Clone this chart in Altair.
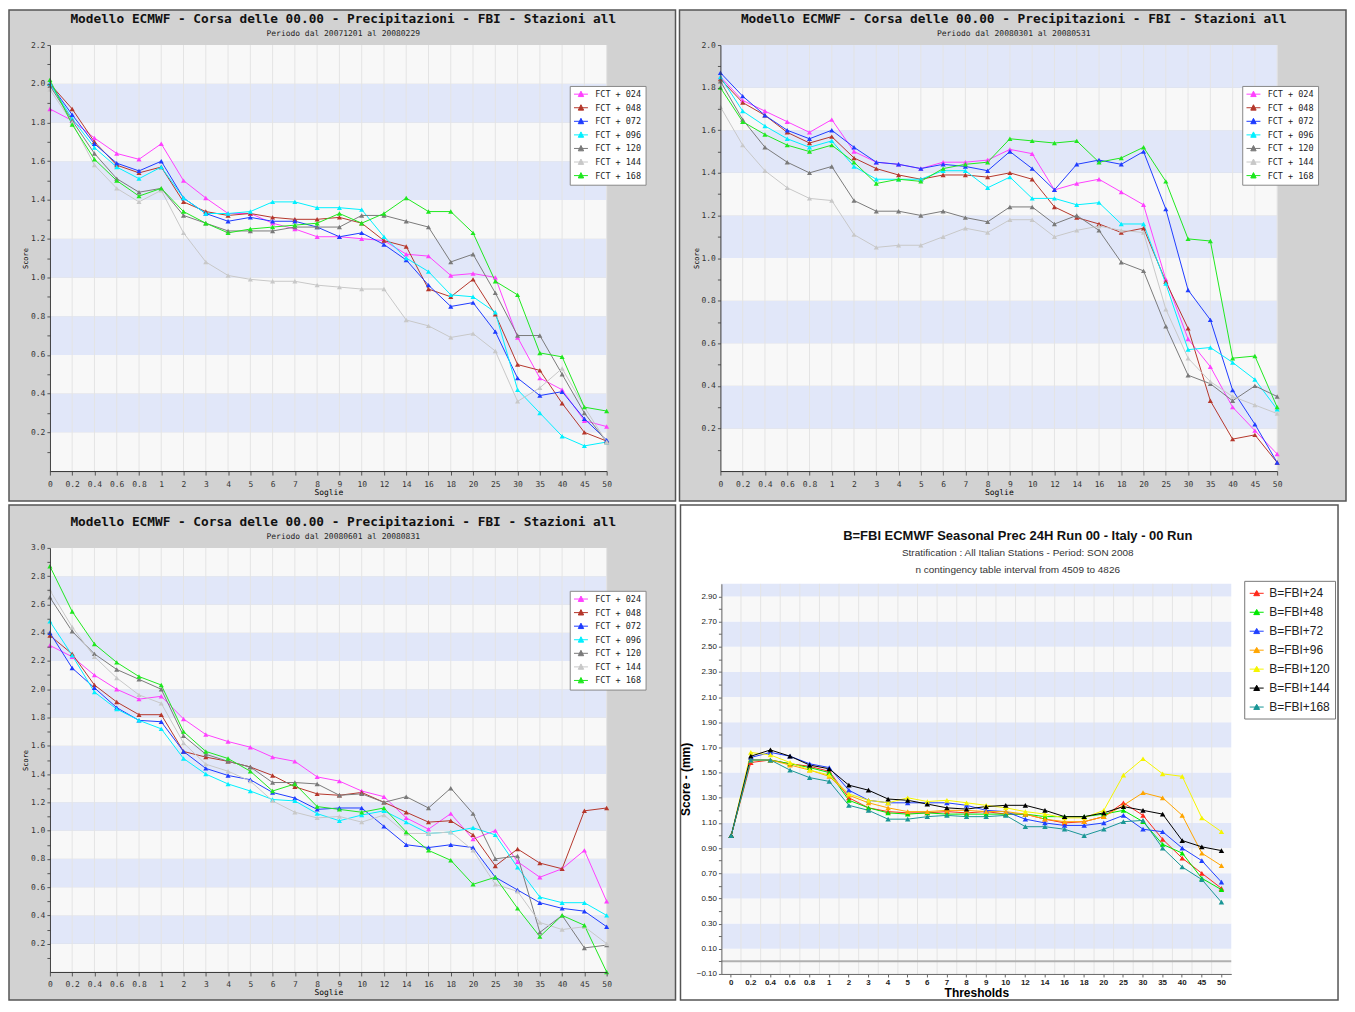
import altair as alt
import pandas as pd

THRESHOLDS = ["0", "0.2", "0.4", "0.6", "0.8", "1", "2", "3", "4", "5", "6", "7", "8",
              "9", "10", "12", "14", "16", "18", "20", "25", "30", "35", "40", "45", "50"]

FCT_NAMES = ["FCT + 024", "FCT + 048", "FCT + 072", "FCT + 096", "FCT + 120", "FCT + 144", "FCT + 168"]
FCT_COLORS = ["#ff40ff", "#b5372b", "#1f3cff", "#00f0ff", "#7a7a7a", "#c8c8c8", "#1fe81f"]

B_NAMES = ["B=FBI+24", "B=FBI+48", "B=FBI+72", "B=FBI+96", "B=FBI+120", "B=FBI+144", "B=FBI+168"]
B_COLORS = ["#ff2a1a", "#00e800", "#2040ff", "#ffa500", "#f5f500", "#000000", "#1a9696"]

TITLE_ECMWF = "Modello ECMWF - Corsa delle 00.00 - Precipitazioni - FBI -  Stazioni all"
PERIOD_1 = "Periodo dal 20071201 al 20080229"
PERIOD_2 = "Periodo dal 20080301 al 20080531"
PERIOD_3 = "Periodo dal 20080601 al 20080831"
TITLE_4 = "B=FBI  ECMWF Seasonal Prec 24H Run 00 - Italy - 00 Run"
SUB_4A = "Stratification : All Italian Stations - Period: SON 2008"
SUB_4B = "n contingency table interval from 4509 to 4826"

# Panel 1 (DJF)
P1_024 = [1.87, 1.81, 1.72, 1.64, 1.61, 1.69, 1.50, 1.41, 1.33, 1.33, 1.28, 1.25, 1.21, 1.21, 1.20, 1.19, 1.12, 1.11, 1.01, 1.02, 1.00, 0.69, 0.48, 0.42, 0.26, 0.23]
P1_048 = [2.00, 1.87, 1.70, 1.58, 1.54, 1.57, 1.39, 1.34, 1.32, 1.33, 1.31, 1.30, 1.30, 1.31, 1.28, 1.19, 1.16, 0.94, 0.90, 0.99, 0.81, 0.55, 0.52, 0.35, 0.20, 0.155]
P1_072 = [2.00, 1.84, 1.69, 1.59, 1.55, 1.60, 1.41, 1.33, 1.29, 1.31, 1.29, 1.29, 1.26, 1.21, 1.23, 1.17, 1.09, 0.96, 0.85, 0.87, 0.72, 0.48, 0.39, 0.41, 0.27, 0.16]
P1_096 = [2.00, 1.82, 1.67, 1.57, 1.51, 1.57, 1.41, 1.33, 1.33, 1.34, 1.39, 1.39, 1.36, 1.36, 1.35, 1.21, 1.10, 1.03, 0.91, 0.90, 0.82, 0.42, 0.30, 0.18, 0.13, 0.15]
P1_120 = [1.99, 1.81, 1.64, 1.51, 1.44, 1.46, 1.32, 1.28, 1.24, 1.24, 1.24, 1.26, 1.26, 1.26, 1.32, 1.32, 1.29, 1.26, 1.08, 1.12, 0.92, 0.70, 0.70, 0.50, 0.30, 0.15]
P1_144 = [1.97, 1.80, 1.58, 1.46, 1.39, 1.45, 1.23, 1.08, 1.01, 0.99, 0.98, 0.98, 0.96, 0.95, 0.94, 0.94, 0.78, 0.75, 0.69, 0.71, 0.62, 0.36, 0.43, 0.53, 0.33, 0.15]
P1_168 = [2.02, 1.79, 1.61, 1.50, 1.42, 1.46, 1.34, 1.28, 1.23, 1.25, 1.26, 1.27, 1.28, 1.33, 1.28, 1.33, 1.41, 1.34, 1.34, 1.23, 0.98, 0.91, 0.61, 0.59, 0.33, 0.31]

# Panel 2 (MAM)
P2_024 = [1.85, 1.74, 1.69, 1.64, 1.59, 1.65, 1.50, 1.45, 1.44, 1.42, 1.45, 1.45, 1.46, 1.51, 1.49, 1.32, 1.35, 1.37, 1.31, 1.25, 0.90, 0.62, 0.49, 0.30, 0.19, 0.08]
P2_048 = [1.84, 1.73, 1.67, 1.59, 1.54, 1.57, 1.47, 1.42, 1.39, 1.37, 1.39, 1.39, 1.38, 1.40, 1.37, 1.24, 1.19, 1.16, 1.12, 1.14, 0.89, 0.67, 0.33, 0.15, 0.17, 0.04]
P2_072 = [1.87, 1.76, 1.67, 1.60, 1.56, 1.60, 1.52, 1.45, 1.44, 1.42, 1.44, 1.43, 1.41, 1.50, 1.42, 1.32, 1.44, 1.46, 1.44, 1.50, 1.23, 0.85, 0.71, 0.38, 0.22, 0.04]
P2_096 = [1.85, 1.69, 1.62, 1.56, 1.52, 1.55, 1.43, 1.37, 1.37, 1.37, 1.41, 1.41, 1.33, 1.38, 1.28, 1.28, 1.25, 1.26, 1.16, 1.16, 0.88, 0.57, 0.58, 0.51, 0.43, 0.29]
P2_120 = [1.83, 1.65, 1.52, 1.45, 1.40, 1.43, 1.27, 1.22, 1.22, 1.20, 1.22, 1.19, 1.17, 1.24, 1.24, 1.16, 1.20, 1.13, 0.98, 0.94, 0.68, 0.45, 0.41, 0.33, 0.40, 0.35]
P2_144 = [1.71, 1.53, 1.41, 1.33, 1.28, 1.27, 1.11, 1.05, 1.06, 1.06, 1.10, 1.14, 1.12, 1.18, 1.18, 1.10, 1.13, 1.15, 1.13, 1.12, 0.76, 0.53, 0.42, 0.35, 0.31, 0.27]
P2_168 = [1.80, 1.64, 1.58, 1.53, 1.50, 1.53, 1.45, 1.35, 1.37, 1.36, 1.42, 1.44, 1.45, 1.56, 1.55, 1.54, 1.55, 1.45, 1.47, 1.52, 1.36, 1.09, 1.08, 0.53, 0.54, 0.30]

# Panel 3 (JJA)
P3_024 = [2.31, 2.23, 2.10, 2.00, 1.93, 1.95, 1.79, 1.68, 1.63, 1.59, 1.52, 1.49, 1.38, 1.35, 1.28, 1.24, 1.09, 1.01, 1.12, 0.94, 1.00, 0.78, 0.67, 0.73, 0.86, 0.50]
P3_048 = [2.38, 2.25, 2.03, 1.91, 1.82, 1.82, 1.56, 1.52, 1.49, 1.45, 1.39, 1.31, 1.26, 1.25, 1.27, 1.20, 1.13, 1.06, 1.07, 0.97, 0.75, 0.87, 0.77, 0.73, 1.14, 1.16]
P3_072 = [2.40, 2.15, 2.01, 1.87, 1.78, 1.77, 1.56, 1.44, 1.39, 1.36, 1.27, 1.23, 1.15, 1.16, 1.16, 1.03, 0.90, 0.88, 0.90, 0.88, 0.67, 0.58, 0.49, 0.45, 0.43, 0.32]
P3_096 = [2.48, 2.24, 1.98, 1.86, 1.78, 1.72, 1.51, 1.40, 1.33, 1.28, 1.22, 1.21, 1.12, 1.07, 1.11, 1.14, 1.06, 0.98, 0.99, 1.02, 0.97, 0.74, 0.53, 0.49, 0.49, 0.40]
P3_120 = [2.65, 2.41, 2.25, 2.14, 2.07, 2.00, 1.67, 1.54, 1.49, 1.45, 1.34, 1.34, 1.33, 1.25, 1.26, 1.20, 1.24, 1.16, 1.30, 1.12, 0.80, 0.82, 0.28, 0.40, 0.17, 0.19]
P3_144 = [2.70, 2.44, 2.23, 2.08, 1.96, 1.90, 1.62, 1.47, 1.42, 1.35, 1.21, 1.13, 1.09, 1.10, 1.06, 1.11, 0.98, 0.98, 0.99, 0.86, 0.62, 0.57, 0.35, 0.30, 0.32, 0.20]
P3_168 = [2.87, 2.55, 2.32, 2.19, 2.09, 2.03, 1.70, 1.56, 1.51, 1.42, 1.28, 1.33, 1.17, 1.15, 1.13, 1.16, 0.99, 0.86, 0.79, 0.62, 0.67, 0.45, 0.25, 0.40, 0.33, 0.00]

# Panel 4 (SON)
P4_24 = [1.00, 1.58, 1.60, 1.57, 1.55, 1.51, 1.30, 1.22, 1.19, 1.18, 1.18, 1.19, 1.18, 1.19, 1.17, 1.17, 1.13, 1.10, 1.11, 1.15, 1.26, 1.16, 0.97, 0.82, 0.70, 0.58]
P4_48 = [1.00, 1.60, 1.60, 1.57, 1.54, 1.50, 1.28, 1.22, 1.18, 1.17, 1.18, 1.17, 1.17, 1.17, 1.17, 1.17, 1.15, 1.15, 1.15, 1.17, 1.20, 1.11, 0.93, 0.86, 0.66, 0.57]
P4_72 = [1.00, 1.62, 1.66, 1.63, 1.57, 1.54, 1.36, 1.28, 1.26, 1.26, 1.26, 1.26, 1.24, 1.20, 1.19, 1.13, 1.10, 1.08, 1.08, 1.10, 1.16, 1.05, 1.03, 0.90, 0.80, 0.63]
P4_96 = [1.00, 1.60, 1.60, 1.56, 1.52, 1.47, 1.32, 1.26, 1.22, 1.19, 1.19, 1.20, 1.20, 1.19, 1.19, 1.17, 1.13, 1.11, 1.11, 1.15, 1.24, 1.34, 1.30, 1.16, 0.86, 0.76]
P4_120 = [1.00, 1.66, 1.64, 1.58, 1.52, 1.48, 1.33, 1.28, 1.26, 1.30, 1.27, 1.28, 1.26, 1.24, 1.22, 1.19, 1.17, 1.14, 1.14, 1.20, 1.48, 1.61, 1.49, 1.47, 1.14, 1.03]
P4_144 = [1.00, 1.63, 1.68, 1.63, 1.56, 1.53, 1.40, 1.36, 1.29, 1.28, 1.25, 1.22, 1.21, 1.23, 1.24, 1.24, 1.20, 1.15, 1.15, 1.18, 1.23, 1.20, 1.17, 0.96, 0.91, 0.88]
P4_168 = [1.00, 1.60, 1.60, 1.52, 1.46, 1.43, 1.24, 1.20, 1.13, 1.13, 1.15, 1.16, 1.15, 1.15, 1.16, 1.07, 1.07, 1.05, 1.00, 1.05, 1.11, 1.12, 0.90, 0.75, 0.65, 0.47]

# ---------------- style ----------------
MONO = "DejaVu Sans Mono"
SANS = "Liberation Sans"
PANEL_GREY = "#d2d2d2"
BORDER = "#555555"
BAND_BLUE = "#e1e7f9"
BAND_WHITE = "#f8f8f8"
GRID = "#e4e4e4"
# legend glyph: short line with a triangle (small nominal size, drawn wider than its box)
LEG_PATH = "M-1.33,0L3.33,0M0.1,0.8L1,-1L1.9,0.8Z"
LEG_PATH4 = "M-1,0L1,0M-0.42,0.34L0,-0.4L0.42,0.34Z"

ONE = pd.DataFrame({"k": [0]})


def long_df(names, lists):
    rows = []
    for name, vals in zip(names, lists):
        for i, (t, v) in enumerate(zip(THRESHOLDS, vals)):
            rows.append({"thr": t, "idx": i, "v": v, "s": name})
    return pd.DataFrame(rows)


def bands_df(lo, hi, step):
    y0, y1, c = [], [], []
    k = 0
    a = lo
    while a < hi - 1e-9:
        b = min(round(a + step, 4), hi)
        y0.append(a)
        y1.append(b)
        c.append(BAND_BLUE if k % 2 == 1 else BAND_WHITE)
        a = b
        k += 1
    return pd.DataFrame({"y0": y0, "y1": y1, "c": c})


def text_layer(txt, x, y, font, size, weight="normal", color="#000000"):
    return alt.Chart(pd.DataFrame({"t": [txt]})).mark_text(
        font=font, fontSize=size, fontWeight=weight, color=color,
        align="center", baseline="middle"
    ).encode(text="t:N", x=alt.value(x), y=alt.value(y))


def ecmwf_panel(lists, period, ymax, H, top, bottom, right, leg_x, leg_y, W=558):
    df = long_df(FCT_NAMES, lists)
    xs = alt.Scale(type="point", padding=0, domain=THRESHOLDS)
    ys = alt.Scale(domain=[0, ymax], nice=False, zero=False)
    ticks = [round(0.1 * i, 1) for i in range(1, int(round(ymax * 10)) + 1)]
    xax = alt.Axis(title="Soglie", titleFont=MONO, titleFontSize=8, titleFontWeight="normal",
                   titlePadding=0, labelFont=MONO, labelFontSize=8, labelColor="#333333",
                   labelAngle=0, labelPadding=5, tickSize=4, tickColor="#555555",
                   domainColor="#333333", grid=False, zindex=1)
    yax = alt.Axis(title="Score", titleFont=MONO, titleFontSize=7, titleFontWeight="normal",
                   titlePadding=2, values=ticks,
                   labelExpr="(round(datum.value*10) % 2 == 0) ? format(datum.value, '.1f') : ''",
                   labelFont=MONO, labelFontSize=8, labelColor="#333333", tickSize=3,
                   tickColor="#555555", domainColor="#333333", grid=False, zindex=1)
    cs = alt.Scale(domain=FCT_NAMES, range=FCT_COLORS)
    leg = alt.Legend(orient="none", legendX=leg_x, legendY=leg_y, title=None,
                     fillColor="#ffffff", strokeColor="#888888", padding=4,
                     symbolType=LEG_PATH, symbolSize=36, symbolStrokeWidth=1,
                     labelFont=MONO, labelFontSize=8.5, labelColor="#222222",
                     labelOffset=13, rowPadding=3.6)

    bg = alt.Chart(ONE).mark_rect(fill=PANEL_GREY, stroke=BORDER, strokeWidth=1.5).encode(
        x=alt.value(-41), x2=alt.value(W + right), y=alt.value(-top), y2=alt.value(H + bottom))
    bands = alt.Chart(bands_df(0.0, ymax, 0.2)).mark_rect().encode(
        x=alt.value(0), x2=alt.value(W),
        y=alt.Y("y0:Q", scale=ys, axis=yax), y2="y1:Q",
        fill=alt.Fill("c:N", scale=None))
    grid = alt.Chart(pd.DataFrame({"thr": THRESHOLDS})).mark_rule(color=GRID, strokeWidth=1).encode(
        x=alt.X("thr:N", scale=xs, axis=xax), y=alt.value(0), y2=alt.value(H))
    lines = alt.Chart(df).mark_line(strokeWidth=1).encode(
        x=alt.X("thr:N", scale=xs, axis=xax),
        y=alt.Y("v:Q", scale=ys, axis=yax),
        color=alt.Color("s:N", scale=cs, legend=leg),
        order=alt.Order("idx:Q"))
    pts = alt.Chart(df).mark_point(shape="triangle-up", filled=True, size=26, opacity=1).encode(
        x=alt.X("thr:N", scale=xs, axis=xax),
        y=alt.Y("v:Q", scale=ys, axis=yax),
        color=alt.Color("s:N", scale=cs, legend=leg))
    t1 = text_layer(TITLE_ECMWF, 294, -26, MONO, 12.8, "bold", "#111111")
    t2 = text_layer(period, 294, -11, MONO, 8, "normal", "#222222")
    return alt.layer(bg, bands, grid, lines, pts, t1, t2).properties(width=W, height=H)


def son_panel():
    W = 511
    H = 427          # plot drawn between TOP and H
    TOP = 36
    df = long_df(B_NAMES, [P4_24, P4_48, P4_72, P4_96, P4_120, P4_144, P4_168])
    xs = alt.Scale(type="band", paddingInner=0, paddingOuter=0, domain=THRESHOLDS)
    ys = alt.Scale(domain=[-0.1, 3.0], nice=False, zero=False, range=[H, TOP])
    ticks = [round(-0.1 + 0.1 * i, 2) for i in range(0, 31)]
    xax = alt.Axis(title="Thresholds", titleFont=SANS, titleFontSize=12, titleFontWeight="bold",
                   titlePadding=1, labelFont=SANS, labelFontSize=8, labelFontWeight="bold",
                   labelColor="#222222", labelAngle=0, labelPadding=2, tickSize=3,
                   tickColor="#666666", domainColor="#666666", grid=False, zindex=1)
    yax = alt.Axis(title="Score - (mm)", titleFont=SANS, titleFontSize=12, titleFontWeight="bold",
                   titlePadding=4, values=ticks,
                   labelExpr="(round(datum.value*10) % 2 != 0) ? format(datum.value, '.2f') : ''",
                   labelFont=SANS, labelFontSize=8, labelColor="#222222", tickSize=3,
                   tickColor="#666666", domainColor="#666666", grid=False, zindex=1)
    cs = alt.Scale(domain=B_NAMES, range=B_COLORS)
    leg = alt.Legend(orient="none", legendX=524, legendY=33, title=None,
                     fillColor="#ffffff", strokeColor="#777777", padding=5,
                     symbolType=LEG_PATH4, symbolSize=196, symbolStrokeWidth=1,
                     labelFont=SANS, labelFontSize=12, labelColor="#222222",
                     labelOffset=5, rowPadding=5)

    bg = alt.Chart(ONE).mark_rect(fill="#ffffff", stroke=BORDER, strokeWidth=1.5).encode(
        x=alt.value(-41), x2=alt.value(W + 107), y=alt.value(-43), y2=alt.value(H + 26))
    bands = alt.Chart(bands_df(-0.1, 3.0, 0.2)).mark_rect().encode(
        x=alt.value(0), x2=alt.value(W),
        y=alt.Y("y0:Q", scale=ys, axis=yax), y2="y1:Q",
        fill=alt.Fill("c:N", scale=None))
    grid = alt.Chart(pd.DataFrame({"thr": THRESHOLDS})).mark_rule(color=GRID, strokeWidth=1).encode(
        x=alt.X("thr:N", scale=xs, axis=xax, bandPosition=0), y=alt.value(TOP), y2=alt.value(H))
    zero = alt.Chart(pd.DataFrame({"z": [0.0]})).mark_rule(color="#b0b0b0", strokeWidth=2).encode(
        y=alt.Y("z:Q", scale=ys, axis=yax), x=alt.value(0), x2=alt.value(W))
    lines = alt.Chart(df).mark_line(strokeWidth=1).encode(
        x=alt.X("thr:N", scale=xs, axis=xax),
        y=alt.Y("v:Q", scale=ys, axis=yax),
        color=alt.Color("s:N", scale=cs, legend=leg),
        order=alt.Order("idx:Q"))
    pts = alt.Chart(df).mark_point(shape="triangle-up", filled=True, size=30, opacity=1).encode(
        x=alt.X("thr:N", scale=xs, axis=xax),
        y=alt.Y("v:Q", scale=ys, axis=yax),
        color=alt.Color("s:N", scale=cs, legend=leg))
    t1 = text_layer(TITLE_4, 297, -12, SANS, 13, "bold", "#111111")
    t2 = text_layer(SUB_4A, 297, 5, SANS, 10, "normal", "#333333")
    t3 = text_layer(SUB_4B, 297, 22, SANS, 10, "normal", "#333333")
    return alt.layer(bg, bands, grid, zero, lines, pts, t1, t2, t3).properties(width=W, height=H)


p1 = ecmwf_panel([P1_024, P1_048, P1_072, P1_096, P1_120, P1_144, P1_168], PERIOD_1, 2.2, 427, 35, 30, 69, 521, 41)
p2 = ecmwf_panel([P2_024, P2_048, P2_072, P2_096, P2_120, P2_144, P2_168], PERIOD_2, 2.0, 427, 35, 30, 69, 523, 41)
p3 = ecmwf_panel([P3_024, P3_048, P3_072, P3_096, P3_120, P3_144, P3_168], PERIOD_3, 3.0, 425, 43, 28, 69, 521, 43)
p4 = son_panel()


def indep(c):
    return c.resolve_scale(x="independent", y="independent", color="independent").resolve_legend(
        color="independent").resolve_axis(x="independent", y="independent")


row1 = indep(alt.hconcat(p1, p2, spacing=2))
row2 = indep(alt.hconcat(p3, p4, spacing=2))
chart = indep(alt.vconcat(row1, row2, spacing=2)).properties(
    padding=0, background="#ffffff"
).configure_view(stroke=None)

chart.save("out.html", embed_options={"renderer": "svg", "actions": False})
